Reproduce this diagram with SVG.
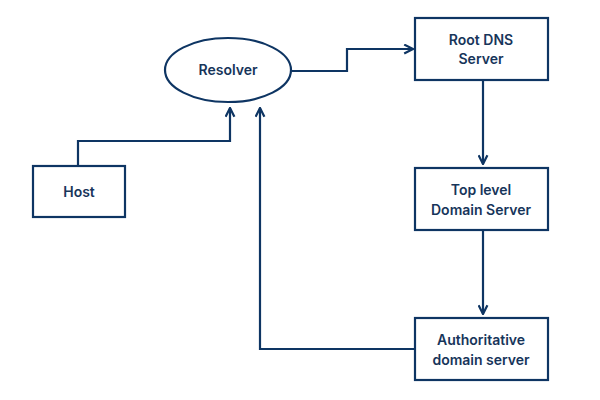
<svg xmlns="http://www.w3.org/2000/svg" width="600" height="400" viewBox="0 0 600 400">
<defs>
<style>
.n{fill:#fff;stroke:#0e3563;stroke-width:2.2}
.c{fill:none;stroke:#0e3563;stroke-width:2.2}
text{font-family:"Inter","Liberation Sans",sans-serif;font-weight:600;font-size:14px;fill:#17355a;text-anchor:middle}
</style>
<marker id="a" viewBox="0 0 10 10" refX="9" refY="5" markerWidth="11" markerHeight="11" markerUnits="userSpaceOnUse" orient="auto">
<path d="M1,1 L9,5 L1,9" fill="none" stroke="#0e3563" stroke-width="2"/>
</marker>
</defs>
<rect width="600" height="400" fill="#fff"/>
<g id="connectors">
<path class="c" d="M292,71 H347 V49 H413" marker-end="url(#a)"/>
<path class="c" d="M483,80 V164" marker-end="url(#a)"/>
<path class="c" d="M483,230 V314" marker-end="url(#a)"/>
<path class="c" d="M78,166 V141 H230 V108" marker-end="url(#a)"/>
<path class="c" d="M415,349 H260 V108" marker-end="url(#a)"/>
</g>
<g id="resolver"><ellipse class="n" cx="228" cy="70" rx="63" ry="32"/><text x="228" y="75">Resolver</text></g>
<g id="root"><rect class="n" x="415" y="18" width="133" height="62"/><text x="481" y="45">Root DNS</text><text x="481" y="64">Server</text></g>
<g id="tld"><rect class="n" x="415" y="168" width="133" height="62"/><text x="481" y="195">Top level</text><text x="481" y="215">Domain Server</text></g>
<g id="auth"><rect class="n" x="415" y="318" width="133" height="62"/><text x="481" y="345">Authoritative</text><text x="481" y="365">domain server</text></g>
<g id="host"><rect class="n" x="33" y="166" width="92" height="51"/><text x="79" y="197">Host</text></g>
</svg>
